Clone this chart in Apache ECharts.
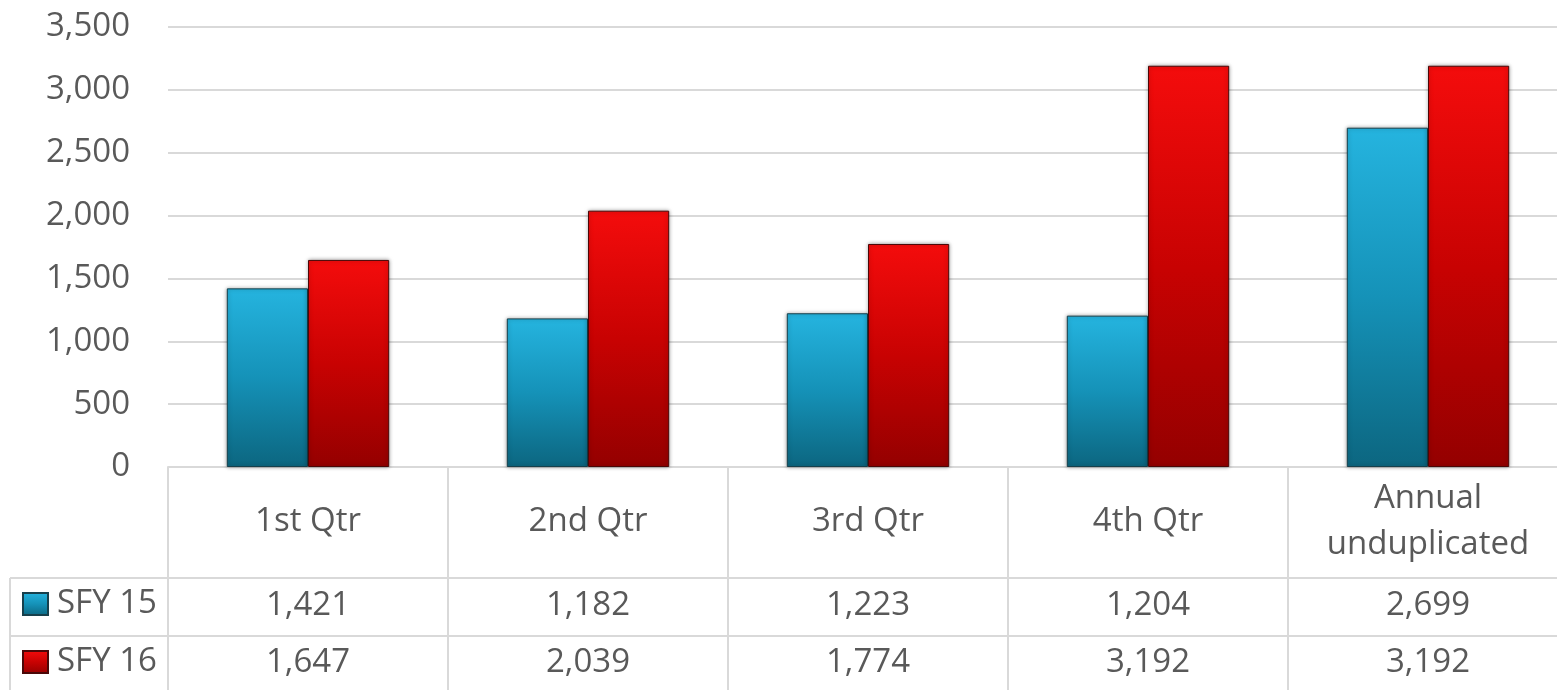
<!DOCTYPE html>
<html>
<head>
<meta charset="utf-8">
<script src="https://cdn.jsdelivr.net/npm/echarts@6/dist/echarts.min.js"></script>
<style>
html,body{margin:0;padding:0;background:#fff;}
#chart{width:1557px;height:690px;}
</style>
</head>
<body>
<div id="chart"></div>
<script>
const categories = ['1st Qtr', '2nd Qtr', '3rd Qtr', '4th Qtr', 'Annual\nunduplicated'];
const seriesNames = ['SFY 15', 'SFY 16'];
const sfy15 = [1421, 1182, 1223, 1204, 2699];
const sfy16 = [1647, 2039, 1774, 3192, 3192];
const yMin = 0, yMax = 3500, yInterval = 500;

const FONT = '"Open Sans", "DejaVu Sans", sans-serif';
const FS = 33;
const TXT = '#595959';
const LINE = '#d9d9d9';
const fmt = v => Number(v).toLocaleString('en-US');

const chart = echarts.init(document.getElementById('chart'));

const blue = new echarts.graphic.LinearGradient(0, 0, 0, 1, [
  {offset: 0, color: '#25b4df'},
  {offset: 0.5, color: '#1592b8'},
  {offset: 1, color: '#0c6680'}
]);
const red = new echarts.graphic.LinearGradient(0, 0, 0, 1, [
  {offset: 0, color: '#f40c0c'},
  {offset: 0.5, color: '#c80202'},
  {offset: 1, color: '#940000'}
]);

const gridTop = 27, gridBottom = 223, gridLeft = 168, gridWidth = 1400;
const rowH = [111, 58];

chart.setOption({
  animation: false,
  textStyle: {fontFamily: FONT},
  grid: {left: gridLeft, width: gridWidth, top: gridTop, bottom: gridBottom, containLabel: false, outerBoundsMode: 'none'},
  legend: {
    data: seriesNames,
    orient: 'vertical',
    left: 17,
    top: 581,
    itemWidth: 25,
    itemHeight: 22,
    itemGap: 22,
    icon: 'rect',
    textStyle: {fontSize: FS, color: TXT, fontFamily: FONT, lineHeight: 36, padding: [0, 0, 0, 4]}
  },
  xAxis: [
    {
      type: 'category',
      data: categories,
      position: 'bottom',
      axisLine: {show: true, lineStyle: {color: LINE, width: 2}},
      axisTick: {show: true, length: 223, lineStyle: {color: LINE, width: 2}},
      axisLabel: {fontSize: FS, color: TXT, fontFamily: FONT, margin: 55, verticalAlign: 'middle', lineHeight: 46, interval: 0}
    },
    {
      type: 'category',
      data: categories,
      position: 'bottom',
      offset: rowH[0],
      axisLine: {show: true, lineStyle: {color: LINE, width: 2}},
      axisTick: {show: false},
      axisLabel: {fontSize: FS, color: TXT, fontFamily: FONT, margin: 28, verticalAlign: 'middle', interval: 0,
        formatter: (v, i) => fmt(sfy15[i])}
    },
    {
      type: 'category',
      data: categories,
      position: 'bottom',
      offset: rowH[0] + rowH[1],
      axisLine: {show: true, lineStyle: {color: LINE, width: 2}},
      axisTick: {show: false},
      axisLabel: {fontSize: FS, color: TXT, fontFamily: FONT, margin: 27, verticalAlign: 'middle', interval: 0,
        formatter: (v, i) => fmt(sfy16[i])}
    }
  ],
  yAxis: {
    type: 'value',
    min: yMin, max: yMax, interval: yInterval,
    axisLine: {show: false},
    axisTick: {show: false},
    splitLine: {lineStyle: {color: LINE, width: 2}},
    axisLabel: {fontSize: FS, color: TXT, fontFamily: FONT, margin: 38, formatter: v => fmt(v)}
  },
  graphic: [
    {type: 'line', shape: {x1: 10, y1: 690 - gridBottom + rowH[0], x2: gridLeft, y2: 690 - gridBottom + rowH[0]}, style: {stroke: LINE, lineWidth: 2}},
    {type: 'line', shape: {x1: 10, y1: 690 - gridBottom + rowH[0] + rowH[1], x2: gridLeft, y2: 690 - gridBottom + rowH[0] + rowH[1]}, style: {stroke: LINE, lineWidth: 2}},
    {type: 'line', shape: {x1: 10, y1: 690 - gridBottom + rowH[0], x2: 10, y2: 690}, style: {stroke: LINE, lineWidth: 2}}
  ],
  series: [
    {
      name: seriesNames[0], type: 'bar', data: sfy15,
      barGap: '0%', barCategoryGap: '42%',
      itemStyle: {color: blue, borderColor: '#17404c', borderWidth: 1, shadowBlur: 4, shadowColor: 'rgba(0,0,0,0.35)'}
    },
    {
      name: seriesNames[1], type: 'bar', data: sfy16,
      barGap: '0%', barCategoryGap: '42%',
      itemStyle: {color: red, borderColor: '#4a0808', borderWidth: 1, shadowBlur: 4, shadowColor: 'rgba(0,0,0,0.35)'}
    }
  ]
});
</script>
</body>
</html>
